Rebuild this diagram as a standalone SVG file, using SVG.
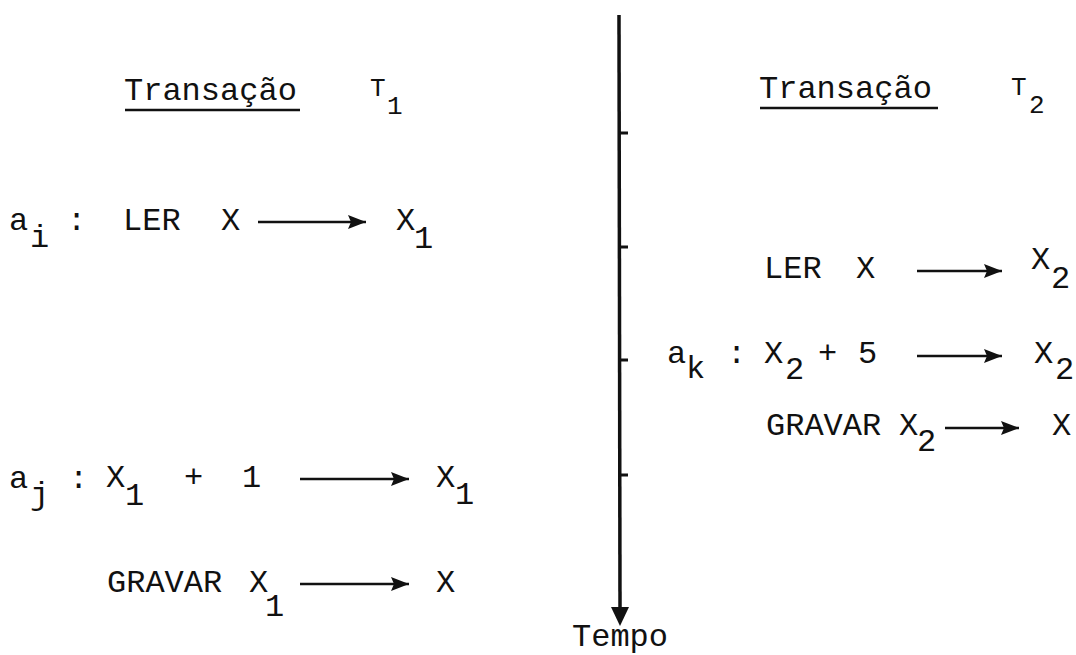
<svg xmlns="http://www.w3.org/2000/svg" width="1076" height="655" viewBox="0 0 1076 655">
<style>
text{font-family:"Liberation Mono","Courier New",monospace;font-size:32px;fill:#111}
.sm{font-size:26px}
.ul{stroke:#111;stroke-width:2.5}
.arr{stroke:#111;stroke-width:2.5;fill:none;marker-end:url(#ah)}
.tl{stroke:#111;stroke-width:3.5;fill:none}
.tick{stroke:#111;stroke-width:3}
</style>
<defs>
<marker id="ah" markerUnits="userSpaceOnUse" markerWidth="20" markerHeight="16" refX="18" refY="8" orient="auto">
<path d="M0,1 L18,8 L0,15 L3,8 Z" fill="#111"/>
</marker>
</defs>
<rect width="1076" height="655" fill="#fff"/>

<g id="title-t1">
<text x="124" y="100">Transação</text>
<line class="ul" x1="125" y1="110" x2="300" y2="110"/>
<text class="sm" x="370" y="96">T</text>
<text class="sm" x="387" y="114">1</text>
</g>

<g id="title-t2">
<text x="759" y="98">Transação</text>
<line class="ul" x1="760" y1="108" x2="938" y2="108"/>
<text class="sm" x="1011" y="95">T</text>
<text class="sm" x="1029" y="113">2</text>
</g>

<g id="row-ai">
<text x="9" y="230">a</text>
<text x="30" y="247">i</text>
<text x="67" y="230">:</text>
<text x="123" y="230">LER</text>
<text x="221" y="230">X</text>
<text x="396" y="230">X</text>
<text x="414" y="248">1</text>
</g>

<g id="row-aj">
<text x="9" y="488">a</text>
<text x="30" y="504">j</text>
<text x="69" y="488">:</text>
<text x="106" y="487">X</text>
<text x="125" y="505">1</text>
<text x="184" y="487">+</text>
<text x="242" y="487">1</text>
<text x="436" y="487">X</text>
<text x="455" y="504">1</text>
</g>

<g id="row-gravar1">
<text x="107" y="592">GRAVAR</text>
<text x="249" y="592">X</text>
<text x="265" y="616">1</text>
<text x="436" y="592">X</text>
</g>

<g id="row-ler2">
<text x="764" y="278">LER</text>
<text x="856" y="278">X</text>
<text x="1031" y="269">X</text>
<text x="1051" y="288">2</text>
</g>

<g id="row-ak">
<text x="667" y="363">a</text>
<text x="686" y="378">k</text>
<text x="727" y="363">:</text>
<text x="764" y="363">X</text>
<text x="785" y="379">2</text>
<text x="818" y="363">+</text>
<text x="858" y="363">5</text>
<text x="1034" y="363">X</text>
<text x="1055" y="379">2</text>
</g>

<g id="row-gravar2">
<text x="766" y="435">GRAVAR</text>
<text x="899" y="435">X</text>
<text x="917" y="451">2</text>
<text x="1052" y="435">X</text>
</g>

<g id="timeline">
<line class="tl" x1="619" y1="15" x2="620" y2="610"/>
<path d="M611,607 L629,607 L620,626 Z" fill="#111"/>
<line class="tick" x1="619" y1="133" x2="628" y2="133"/>
<line class="tick" x1="619" y1="247" x2="628" y2="247"/>
<line class="tick" x1="619" y1="360" x2="628" y2="360"/>
<line class="tick" x1="619" y1="475" x2="628" y2="475"/>
<text x="572" y="646">Tempo</text>
</g>

<g id="connectors">
<line class="arr" x1="258" y1="222" x2="366" y2="222"/>
<line class="arr" x1="300" y1="479" x2="409" y2="479"/>
<line class="arr" x1="300" y1="584" x2="409" y2="584"/>
<line class="arr" x1="917" y1="271" x2="1002" y2="271"/>
<line class="arr" x1="917" y1="356" x2="1002" y2="356"/>
<line class="arr" x1="945" y1="428" x2="1019" y2="428"/>
</g>
</svg>
